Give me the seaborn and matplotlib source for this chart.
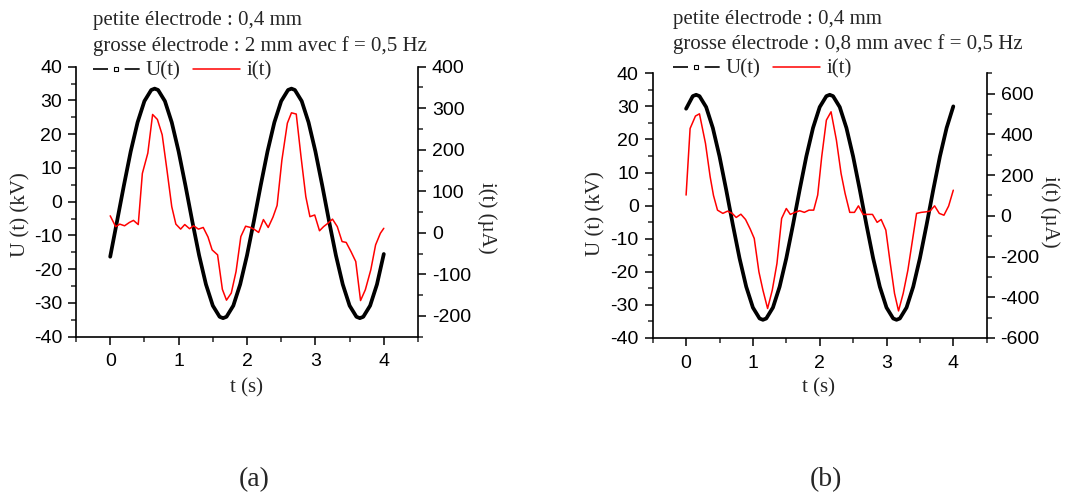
import matplotlib
matplotlib.use("Agg")
import matplotlib.pyplot as plt
from matplotlib.lines import Line2D
from matplotlib.ticker import MultipleLocator
import seaborn as sns

# --- données ---
# tension U(t) en kV, relevee tous les 0,1 s + aux sommets
t_ua = [0.0, 0.1, 0.2, 0.3, 0.4, 0.5, 0.6, 0.65, 0.7, 0.8, 0.9, 1.0, 1.1,
        1.2, 1.3, 1.4, 1.5, 1.6, 1.65, 1.7, 1.8, 1.9, 2.0, 2.1, 2.2, 2.3,
        2.4, 2.5, 2.6, 2.65, 2.7, 2.8, 2.9, 3.0, 3.1, 3.2, 3.3, 3.4, 3.5,
        3.6, 3.65, 3.7, 3.8, 3.9, 4.0]
u_a = [-16.3, -5.8, 4.8, 14.9, 23.5, 29.8, 33.1, 33.5, 33.1, 29.8, 23.5,
       14.9, 4.8, -5.8, -15.9, -24.5, -30.8, -34.1, -34.5, -34.1, -30.8,
       -24.5, -15.9, -5.8, 4.8, 14.9, 23.5, 29.8, 33.1, 33.5, 33.1, 29.8,
       23.5, 14.9, 4.8, -5.8, -15.9, -24.5, -30.8, -34.1, -34.5, -34.1,
       -30.8, -24.5, -15.5]

t_ub = [0.0, 0.1, 0.15, 0.2, 0.3, 0.4, 0.5, 0.6, 0.7, 0.8, 0.9, 1.0, 1.1,
        1.15, 1.2, 1.3, 1.4, 1.5, 1.6, 1.7, 1.8, 1.9, 2.0, 2.1, 2.15, 2.2,
        2.3, 2.4, 2.5, 2.6, 2.7, 2.8, 2.9, 3.0, 3.1, 3.15, 3.2, 3.3, 3.4,
        3.5, 3.6, 3.7, 3.8, 3.9, 4.0]
u_b = [29.3, 33.1, 33.5, 33.1, 29.8, 23.5, 14.9, 4.8, -5.8, -15.9, -24.5,
       -30.8, -34.1, -34.5, -34.1, -30.8, -24.5, -15.9, -5.8, 4.8, 14.9,
       23.5, 29.8, 33.1, 33.5, 33.1, 29.8, 23.5, 14.9, 4.8, -5.8, -15.9,
       -24.5, -30.8, -34.1, -34.5, -34.1, -30.8, -24.5, -15.9, -5.8, 4.8,
       14.9, 23.5, 30.0]

# courant i(t) en uA
t_ia = [0.00, 0.08, 0.14, 0.21, 0.28, 0.34, 0.41, 0.47, 0.55, 0.62, 0.69,
        0.76, 0.83, 0.90, 0.96, 1.03, 1.09, 1.16, 1.22, 1.29, 1.36, 1.43,
        1.49, 1.57, 1.64, 1.70, 1.77, 1.84, 1.91, 1.98, 2.05, 2.11, 2.17,
        2.24, 2.31, 2.38, 2.44, 2.51, 2.59, 2.65, 2.72, 2.79, 2.86, 2.92,
        2.99, 3.06, 3.12, 3.19, 3.25, 3.32, 3.39, 3.45, 3.52, 3.59, 3.66,
        3.73, 3.81, 3.88, 3.95, 4.00]
i_a = [41, 15, 21, 17, 25, 30, 20, 143, 192, 285, 273, 236, 151, 63, 21, 9,
       20, 10, 17, 9, 13, -10, -41, -53, -136, -162, -145, -93, -9, 16, 13,
       8, 1, 32, 13, 38, 66, 175, 264, 289, 286, 183, 87, 39, 43, 5, 15, 24,
       33, 15, -21, -23, -45, -69, -163, -137, -89, -29, -1, 11]

t_ib = [0.00, 0.06, 0.14, 0.20, 0.29, 0.36, 0.41, 0.47, 0.55, 0.62, 0.69,
        0.75, 0.82, 0.89, 0.96, 1.02, 1.09, 1.15, 1.22, 1.29, 1.36, 1.43,
        1.50, 1.56, 1.63, 1.70, 1.77, 1.84, 1.91, 1.97, 2.03, 2.10, 2.17,
        2.25, 2.32, 2.38, 2.45, 2.52, 2.58, 2.65, 2.72, 2.79, 2.86, 2.92,
        2.99, 3.05, 3.12, 3.18, 3.25, 3.32, 3.45, 3.52, 3.60, 3.65, 3.72,
        3.79, 3.86, 3.93, 4.00]
i_b = [102, 429, 490, 501, 356, 192, 100, 28, 12, 23, 12, -8, 8, -18, -65,
       -111, -275, -365, -455, -365, -234, -13, 36, 7, 17, 25, 17, 28, 28,
       102, 290, 470, 511, 372, 208, 110, 17, 17, 49, 7, 7, 7, -32, -18, -70,
       -218, -381, -467, -381, -267, 12, 17, 20, 23, 49, 12, 3, 48, 126]

titres_a = ["petite électrode : 0,4 mm",
            "grosse électrode : 2 mm avec f = 0,5 Hz"]
titres_b = ["petite électrode : 0,4 mm",
            "grosse électrode : 0,8 mm avec f = 0,5 Hz"]

sns.set_theme(style="ticks")
plt.rcParams["font.family"] = ["Liberation Serif", "DejaVu Serif"]
plt.rcParams["axes.unicode_minus"] = False

W, H = 1065.0, 495.0


def fx(px):
    return px / W


def fy(py):
    return 1 - py / H


def panneau(fig, rect, tu, u, ti, cur, ylim2, maj2, min2, titres, pos):
    x0, y0, x1, y1 = rect
    ax = fig.add_axes([fx(x0), fy(y1), (x1 - x0) / W, (y1 - y0) / H])
    ax2 = ax.twinx()

    sns.lineplot(x=tu, y=u, ax=ax, color="black", linewidth=2.7)
    sns.lineplot(x=ti, y=cur, ax=ax2, color="red", linewidth=1.1)

    ax.set_xlim(-0.5, 4.5)
    ax.set_ylim(-40, 40)
    ax2.set_ylim(*ylim2)
    ax.xaxis.set_major_locator(MultipleLocator(1))
    ax.xaxis.set_minor_locator(MultipleLocator(0.5))
    ax.yaxis.set_major_locator(MultipleLocator(10))
    ax.yaxis.set_minor_locator(MultipleLocator(5))
    ax2.yaxis.set_major_locator(MultipleLocator(maj2))
    ax2.yaxis.set_minor_locator(MultipleLocator(min2))

    for a in (ax, ax2):
        a.tick_params(which="major", length=6, width=1.1, direction="out",
                      labelsize=14, labelfontfamily="Liberation Sans",
                      colors="black", pad=4)
        a.tick_params(which="minor", length=3.5, width=1.1, direction="out")
    ax.tick_params(axis="x", pad=6)

    ax.spines["top"].set_visible(False)
    ax.spines["right"].set_visible(False)
    for s in ("top", "left", "bottom"):
        ax2.spines[s].set_visible(False)
    for s in ax.spines.values():
        s.set_linewidth(1.2)
        s.set_color("black")
    ax2.spines["right"].set_linewidth(1.2)
    ax2.spines["right"].set_color("black")

    ax.set_xlabel("t (s)", fontsize=15, va="center")
    ax.set_ylabel("U (t) (kV)", fontsize=15, va="center")
    ax2.set_ylabel("i(t) (µA)", fontsize=15, va="center", rotation=270)
    ax.xaxis.set_label_coords(fx(pos["xl"][0]), fy(pos["xl"][1]),
                              transform=fig.transFigure)
    ax.yaxis.set_label_coords(fx(pos["yl"][0]), fy(pos["yl"][1]),
                              transform=fig.transFigure)
    ax2.yaxis.set_label_coords(fx(pos["yr"][0]), fy(pos["yr"][1]),
                               transform=fig.transFigure)

    tx = pos["texte"]
    fig.text(fx(tx), fy(pos["lignes"][0]), titres[0], fontsize=15,
             va="baseline", ha="left")
    fig.text(fx(tx), fy(pos["lignes"][1]), titres[1], fontsize=15,
             va="baseline", ha="left")

    # trait - carre - trait comme dans la legende d'origine
    poignees = [
        Line2D([], [], color="black", linewidth=1.2, linestyle=(0, (9, 10)),
               marker="s", markersize=3, markerfacecolor="white",
               markeredgecolor="black", markeredgewidth=0.8),
        Line2D([], [], color="red", linewidth=1.1),
    ]
    ax.legend(poignees, ["U(t)", "i(t)"], ncol=2, frameon=False,
              fontsize=15, loc="center left",
              bbox_to_anchor=(fx(tx), fy(pos["legende"])),
              bbox_transform=fig.transFigure, borderpad=0, borderaxespad=0,
              handlelength=2.25, handletextpad=0.3, columnspacing=0.6,
              numpoints=1)
    fig.text(fx(pos["lettre"][0]), fy(pos["lettre"][1]), pos["nom"],
             fontsize=20, ha="center", va="center")
    return ax, ax2


fig = plt.figure(figsize=(W / 100, H / 100), dpi=100)

panneau(fig, (76, 66.7, 418, 336.7), t_ua, u_a, t_ia, i_a, (-250, 400), 100,
        50, titres_a,
        {"xl": (247, 388), "yl": (20.5, 215), "yr": (486.7, 218),
         "texte": 92.7, "lignes": (25, 51.5), "legende": 71,
         "lettre": (254, 480), "nom": "(a)"})
panneau(fig, (652.7, 73.3, 986.7, 338), t_ub, u_b, t_ib, i_b, (-600, 700),
        200, 100, titres_b,
        {"xl": (819, 388), "yl": (596, 214), "yr": (1050, 212),
         "texte": 672.7, "lignes": (24, 49.5), "legende": 69,
         "lettre": (826, 480), "nom": "(b)"})

fig.savefig("out.png", dpi=100, facecolor="white")
